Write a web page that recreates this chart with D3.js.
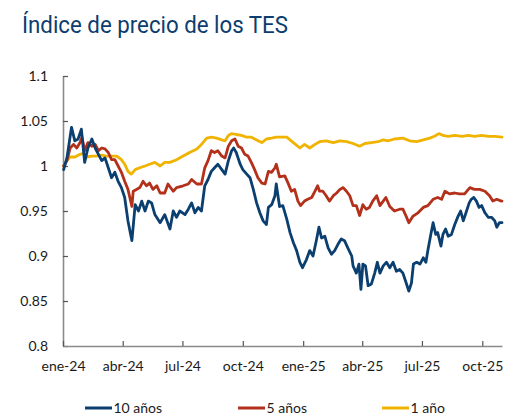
<!DOCTYPE html>
<html>
<head>
<meta charset="utf-8">
<script src="https://cdn.jsdelivr.net/npm/d3@7/dist/d3.min.js"></script>
<style>
  html, body { margin: 0; padding: 0; background: #ffffff; }
  svg { display: block; }
</style>
</head>
<body>
<svg id="chart" width="530" height="420"></svg>
<script>
// ---------------- DATA ----------------
const title = "Índice de precio de los TES";
const seriesNames = ["10 años", "5 años", "1 año"];

const dates10 = [
  "2024-01-02","2024-01-07","2024-01-14","2024-01-19","2024-01-24","2024-01-29",
  "2024-02-03","2024-02-08","2024-02-14","2024-02-19","2024-02-24","2024-02-29",
  "2024-03-05","2024-03-10","2024-03-15","2024-03-20","2024-03-25","2024-03-30",
  "2024-04-04","2024-04-09","2024-04-15","2024-04-20","2024-04-25","2024-04-30",
  "2024-05-05","2024-05-10","2024-05-15","2024-05-20","2024-05-28",
  "2024-06-04","2024-06-12","2024-06-17","2024-06-22","2024-06-27",
  "2024-07-05","2024-07-10","2024-07-15","2024-07-20","2024-07-25","2024-07-30",
  "2024-08-04","2024-08-09","2024-08-14","2024-08-19","2024-08-24","2024-08-30",
  "2024-09-04","2024-09-09","2024-09-14","2024-09-17","2024-09-21","2024-09-27",
  "2024-10-01","2024-10-07","2024-10-12","2024-10-17","2024-10-22","2024-10-27",
  "2024-11-01","2024-11-06","2024-11-09","2024-11-14","2024-11-19","2024-11-21","2024-11-26",
  "2024-12-01","2024-12-07","2024-12-12","2024-12-17","2024-12-22","2024-12-27","2024-12-31",
  "2025-01-06","2025-01-11","2025-01-16","2025-01-21","2025-01-25","2025-01-29",
  "2025-02-03","2025-02-08","2025-02-13","2025-02-18","2025-02-23","2025-02-28",
  "2025-03-05","2025-03-10","2025-03-16","2025-03-18","2025-03-23","2025-03-27","2025-03-30",
  "2025-04-02","2025-04-06","2025-04-10","2025-04-15","2025-04-20","2025-04-24","2025-04-28",
  "2025-05-03","2025-05-08","2025-05-13","2025-05-18","2025-05-23","2025-05-28",
  "2025-06-02","2025-06-07","2025-06-11","2025-06-15","2025-06-18","2025-06-23","2025-06-28",
  "2025-07-03","2025-07-07","2025-07-10","2025-07-14","2025-07-18","2025-07-22","2025-07-25","2025-07-30",
  "2025-08-02","2025-08-06","2025-08-10","2025-08-15","2025-08-20","2025-08-25","2025-08-29",
  "2025-09-02","2025-09-07","2025-09-11","2025-09-14","2025-09-18","2025-09-22","2025-09-26","2025-09-30",
  "2025-10-05","2025-10-10","2025-10-15","2025-10-20","2025-10-23","2025-10-27","2025-10-31"
];
const values10 = [
  0.996, 1.009, 1.043, 1.028, 1.030, 1.041, 1.004, 1.020, 1.030, 1.020,
  1.013, 1.006, 1.009, 0.998, 0.987, 0.993, 0.983, 0.976, 0.965, 0.939,
  0.917, 0.957, 0.950, 0.961, 0.950, 0.961, 0.959, 0.946, 0.937, 0.946,
  0.930, 0.950, 0.943, 0.950, 0.946, 0.952, 0.959, 0.948, 0.954, 0.950,
  0.978, 0.985, 0.994, 0.998, 1.002, 0.996, 0.991, 1.006, 1.017, 1.020,
  1.015, 1.002, 0.996, 0.991, 0.987, 0.974, 0.959, 0.948, 0.939, 0.935,
  0.954, 0.957, 0.967, 0.980, 0.955, 0.956, 0.941, 0.926, 0.915, 0.906,
  0.893, 0.887, 0.896, 0.906, 0.900, 0.917, 0.932, 0.920, 0.922, 0.909,
  0.902, 0.906, 0.913, 0.919, 0.917, 0.909, 0.900, 0.889, 0.881, 0.891,
  0.863, 0.891, 0.889, 0.867, 0.869, 0.881, 0.893, 0.881, 0.889, 0.893,
  0.887, 0.893, 0.883, 0.885, 0.881, 0.870, 0.861, 0.870, 0.891, 0.893,
  0.891, 0.898, 0.893, 0.906, 0.922, 0.937, 0.924, 0.926, 0.911, 0.924,
  0.930, 0.922, 0.924, 0.935, 0.944, 0.950, 0.939, 0.950, 0.959, 0.963,
  0.965, 0.961, 0.954, 0.956, 0.948, 0.943, 0.943, 0.939, 0.932, 0.937, 0.937
];

const dates5 = [
  "2024-01-02","2024-01-07","2024-01-12","2024-01-17","2024-01-22","2024-01-27","2024-01-30",
  "2024-02-03","2024-02-08","2024-02-14","2024-02-19","2024-02-24","2024-02-29",
  "2024-03-05","2024-03-10","2024-03-15","2024-03-20","2024-03-25","2024-03-30",
  "2024-04-04","2024-04-09","2024-04-15","2024-04-17","2024-04-22","2024-04-27",
  "2024-05-02","2024-05-07","2024-05-12","2024-05-17","2024-05-23","2024-05-28",
  "2024-06-04","2024-06-09","2024-06-17","2024-06-22",
  "2024-07-02","2024-07-10","2024-07-15","2024-07-23","2024-07-30",
  "2024-08-04","2024-08-09","2024-08-14","2024-08-19","2024-08-24","2024-08-30",
  "2024-09-04","2024-09-09","2024-09-14","2024-09-19","2024-09-24","2024-09-29",
  "2024-10-04","2024-10-09","2024-10-14","2024-10-19","2024-10-24","2024-10-30",
  "2024-11-04","2024-11-09","2024-11-14","2024-11-19","2024-11-21","2024-11-26",
  "2024-12-04","2024-12-09","2024-12-14","2024-12-19","2024-12-24","2024-12-28",
  "2025-01-03","2025-01-08","2025-01-14","2025-01-19","2025-01-23","2025-01-26","2025-01-31",
  "2025-02-05","2025-02-10","2025-02-16","2025-02-21","2025-02-26",
  "2025-03-03","2025-03-08","2025-03-13","2025-03-18","2025-03-23","2025-03-28",
  "2025-04-02","2025-04-07","2025-04-12","2025-04-17","2025-04-23","2025-04-28",
  "2025-05-03","2025-05-07","2025-05-13","2025-05-20","2025-05-28",
  "2025-06-02","2025-06-07","2025-06-11","2025-06-17","2025-06-25",
  "2025-07-03","2025-07-10","2025-07-18","2025-07-25","2025-07-31",
  "2025-08-05","2025-08-12","2025-08-20","2025-08-27",
  "2025-09-04","2025-09-12","2025-09-19","2025-09-27",
  "2025-10-05","2025-10-12","2025-10-17","2025-10-23","2025-10-30","2025-10-31"
];
const values5 = [
  1.000, 1.006, 1.020, 1.024, 1.020, 1.026, 1.032, 1.017, 1.026, 1.022,
  1.024, 1.017, 1.020, 1.019, 1.015, 1.007, 1.007, 1.000, 0.993, 0.983,
  0.974, 0.955, 0.972, 0.974, 0.976, 0.983, 0.978, 0.981, 0.974, 0.978,
  0.970, 0.970, 0.980, 0.972, 0.976, 0.978, 0.980, 0.985, 0.980, 0.980,
  0.998, 1.006, 1.017, 1.015, 1.017, 1.011, 1.009, 1.022, 1.028, 1.030,
  1.022, 1.020, 1.013, 1.011, 1.004, 0.996, 0.987, 0.981, 0.980, 0.994,
  0.993, 0.998, 1.002, 0.988, 0.989, 0.981, 0.972, 0.974, 0.961, 0.956,
  0.961, 0.963, 0.965, 0.972, 0.978, 0.972, 0.972, 0.967, 0.961, 0.967,
  0.970, 0.974, 0.976, 0.972, 0.967, 0.956, 0.956, 0.945, 0.957, 0.952,
  0.954, 0.961, 0.967, 0.956, 0.961, 0.965, 0.955, 0.950, 0.952, 0.952,
  0.944, 0.937, 0.944, 0.948, 0.954, 0.956, 0.963, 0.965, 0.963, 0.972,
  0.969, 0.970, 0.969, 0.969, 0.976, 0.974, 0.974, 0.972, 0.967, 0.961,
  0.963, 0.961, 0.961
];

const dates1 = [
  "2024-01-02","2024-01-07","2024-01-12","2024-01-19","2024-01-27",
  "2024-02-01","2024-02-06","2024-02-14","2024-02-21","2024-02-29",
  "2024-03-07","2024-03-15","2024-03-23","2024-03-30",
  "2024-04-04","2024-04-09","2024-04-14","2024-04-20","2024-04-27",
  "2024-05-05","2024-05-12","2024-05-20","2024-05-28",
  "2024-06-04","2024-06-12","2024-06-22",
  "2024-07-02","2024-07-12","2024-07-23","2024-07-30",
  "2024-08-07","2024-08-14","2024-08-22","2024-08-30",
  "2024-09-04","2024-09-09","2024-09-14","2024-09-21","2024-09-29",
  "2024-10-07","2024-10-14","2024-10-22","2024-10-30",
  "2024-11-06","2024-11-14","2024-11-21","2024-11-29",
  "2024-12-07","2024-12-17","2024-12-27",
  "2025-01-03","2025-01-11","2025-01-19","2025-01-26",
  "2025-02-05","2025-02-16","2025-02-26",
  "2025-03-08","2025-03-18","2025-03-28",
  "2025-04-05","2025-04-15","2025-04-25",
  "2025-05-03","2025-05-10","2025-05-20",
  "2025-06-02","2025-06-12","2025-06-23",
  "2025-07-03","2025-07-13","2025-07-20","2025-07-27",
  "2025-08-02","2025-08-10","2025-08-20","2025-08-31",
  "2025-09-10","2025-09-19","2025-09-30",
  "2025-10-10","2025-10-20","2025-10-31"
];
const values1 = [
  1.000, 1.006, 1.010, 1.010, 1.013, 1.014, 1.010, 1.011, 1.011, 1.012,
  1.011, 1.011, 1.011, 1.007, 1.002, 0.994, 0.991, 0.996, 0.998, 1.000,
  1.002, 1.004, 1.000, 1.004, 1.004, 1.007, 1.011, 1.015, 1.019, 1.024,
  1.031, 1.032, 1.031, 1.029, 1.028, 1.034, 1.036, 1.035, 1.034, 1.032,
  1.032, 1.029, 1.026, 1.030, 1.031, 1.032, 1.032, 1.032, 1.026, 1.020,
  1.024, 1.020, 1.024, 1.027, 1.028, 1.026, 1.028, 1.027, 1.025, 1.022,
  1.025, 1.026, 1.027, 1.029, 1.028, 1.030, 1.031, 1.028, 1.027, 1.029,
  1.031, 1.033, 1.036, 1.034, 1.033, 1.034, 1.033, 1.034, 1.033, 1.034,
  1.033, 1.033, 1.032
];

const yTickValues = [0.8, 0.85, 0.9, 0.95, 1, 1.05, 1.1];
const yTickLabels = ["0.8", "0.85", "0.9", "0.95", "1", "1.05", "1.1"];
const xTickDates = ["2024-01-01","2024-04-01","2024-07-01","2024-10-01","2025-01-01","2025-04-01","2025-07-01","2025-10-01"];
const xTickLabels = ["ene-24","abr-24","jul-24","oct-24","ene-25","abr-25","jul-25","oct-25"];
const xDomain = ["2024-01-01", "2025-10-31"];
const yDomain = [0.8, 1.1];

// ---------------- STYLE ----------------
const colors = ["#0b3f6f", "#b3301b", "#f0b400"];
const font = "Lato, 'Open Sans', sans-serif";
const textColor = "#1a1a1a";

// ---------------- CHART ----------------
const parse = d3.timeParse("%Y-%m-%d");
const svg = d3.select("#chart");

const margin = { left: 63, right: 28, top: 76, bottom: 74 };
const W = 530, H = 420;

const x = d3.scaleTime()
  .domain(xDomain.map(parse))
  .range([margin.left, W - margin.right]);
const y = d3.scaleLinear()
  .domain(yDomain)
  .range([H - margin.bottom, margin.top]);

// Title
svg.append("text")
  .attr("x", 22)
  .attr("y", 33)
  .attr("font-family", "Roboto, 'Open Sans', sans-serif")
  .attr("font-size", 24)
  .attr("fill", "#0d3d6e")
  .attr("textLength", 266)
  .attr("lengthAdjust", "spacingAndGlyphs")
  .text(title);

// Y axis
const yAxis = d3.axisLeft(y)
  .tickValues(yTickValues)
  .tickFormat((d, i) => yTickLabels[i])
  .tickSizeInner(-5)
  .tickSizeOuter(0)
  .tickPadding(15);
const gy = svg.append("g")
  .attr("transform", `translate(${margin.left},0)`)
  .call(yAxis);

// X axis
const xAxis = d3.axisBottom(x)
  .tickValues(xTickDates.map(parse))
  .tickFormat((d, i) => xTickLabels[i])
  .tickSizeInner(-5)
  .tickSizeOuter(0)
  .tickPadding(15);
const gx = svg.append("g")
  .attr("transform", `translate(0,${H - margin.bottom})`)
  .call(xAxis);

[gx, gy].forEach(g => {
  g.select(".domain").attr("stroke", "#8a8a8a").attr("stroke-width", 1.6);
  g.selectAll(".tick line").attr("stroke", "#555").attr("stroke-width", 1.2);
  g.selectAll(".tick text")
    .attr("font-family", font)
    .attr("font-size", 14)
    .attr("fill", textColor);
});

// Lines
const series = [
  { name: seriesNames[0], dates: dates10, values: values10, color: colors[0] },
  { name: seriesNames[1], dates: dates5, values: values5, color: colors[1] },
  { name: seriesNames[2], dates: dates1, values: values1, color: colors[2] }
];
const line = d3.line()
  .x(d => x(d.date))
  .y(d => y(d.value));

// draw yellow first, then red, then blue on top
[series[2], series[1], series[0]].forEach(s => {
  const pts = s.dates.map((dt, i) => ({ date: parse(dt), value: s.values[i] }));
  svg.append("path")
    .datum(pts)
    .attr("fill", "none")
    .attr("stroke", s.color)
    .attr("stroke-width", 2.8)
    .attr("stroke-linejoin", "round")
    .attr("stroke-linecap", "round")
    .attr("d", line);
});

// Legend
const legendX = [85, 238, 382];
const legendY = 408;
series.forEach((s, i) => {
  const g = svg.append("g").attr("transform", `translate(${legendX[i]},${legendY})`);
  g.append("line")
    .attr("x1", 0).attr("x2", 27)
    .attr("y1", 0).attr("y2", 0)
    .attr("stroke", s.color)
    .attr("stroke-width", 3);
  g.append("text")
    .attr("x", 28.5)
    .attr("y", 0)
    .attr("dy", "0.35em")
    .attr("font-family", font)
    .attr("font-size", 14)
    .attr("fill", textColor)
    .text(s.name);
});
</script>
</body>
</html>
